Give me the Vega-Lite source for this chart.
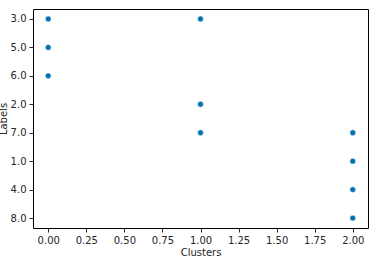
{
  "$schema": "https://vega.github.io/schema/vega-lite/v6.json",
  "width": 335,
  "height": 219,
  "autosize": {"type": "none"},
  "padding": {"left": 33, "top": 9, "right": 14, "bottom": 28},
  "config": {
    "view": {"stroke": "#000000", "strokeWidth": 1},
    "font": "DejaVu Sans",
    "axis": {
      "domain": false,
      "grid": false,
      "labelFont": "DejaVu Sans",
      "labelFontSize": 10,
      "labelColor": "#262626",
      "tickColor": "#262626",
      "tickSize": 4,
      "titleFont": "DejaVu Sans",
      "titleFontSize": 10,
      "titleFontWeight": "normal",
      "titleColor": "#262626"
    }
  },
  "data": {
    "values": [
      {"Clusters": 0, "Labels": "3.0"},
      {"Clusters": 0, "Labels": "5.0"},
      {"Clusters": 0, "Labels": "6.0"},
      {"Clusters": 1, "Labels": "3.0"},
      {"Clusters": 1, "Labels": "2.0"},
      {"Clusters": 1, "Labels": "7.0"},
      {"Clusters": 2, "Labels": "7.0"},
      {"Clusters": 2, "Labels": "1.0"},
      {"Clusters": 2, "Labels": "4.0"},
      {"Clusters": 2, "Labels": "8.0"}
    ]
  },
  "mark": {"type": "circle", "color": "#0173b2", "opacity": 1, "size": 34, "stroke": "white", "strokeWidth": 0.5},
  "encoding": {
    "x": {
      "field": "Clusters",
      "type": "quantitative",
      "scale": {"domain": [-0.1, 2.1], "nice": false, "zero": false},
      "axis": {"values": [0, 0.25, 0.5, 0.75, 1, 1.25, 1.5, 1.75, 2], "format": ".2f", "title": "Clusters", "titlePadding": 2, "labelPadding": 3}
    },
    "y": {
      "field": "Labels",
      "type": "ordinal",
      "sort": ["3.0", "5.0", "6.0", "2.0", "7.0", "1.0", "4.0", "8.0"],
      "scale": {"type": "point", "padding": 0.35},
      "axis": {"title": "Labels", "titlePadding": 2, "labelPadding": 3}
    }
  }
}
